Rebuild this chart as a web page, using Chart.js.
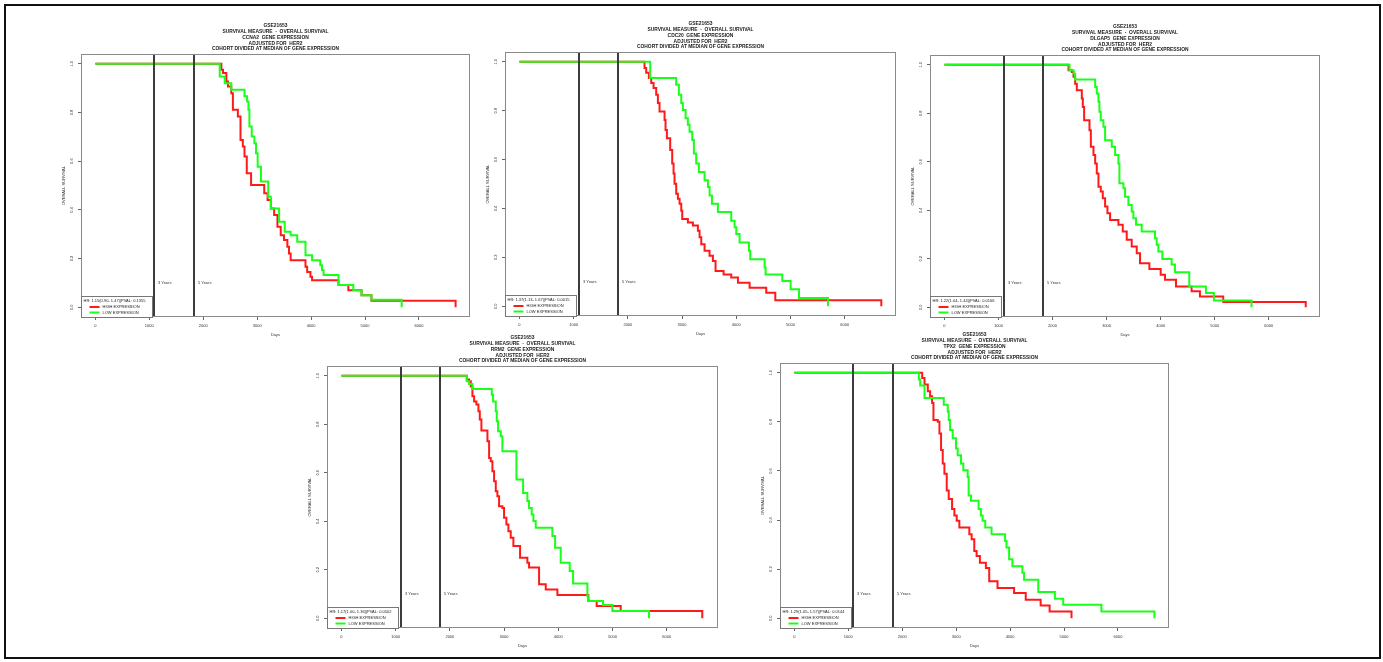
<!DOCTYPE html>
<html><head><meta charset="utf-8">
<script src="https://cdn.jsdelivr.net/npm/chart.js@4.4.1/dist/chart.umd.min.js"></script>
<style>
html,body{margin:0;padding:0;background:#fff;width:1383px;height:662px;overflow:hidden;position:relative;}
.frame{position:absolute;left:4px;top:4px;width:1373px;height:651px;border:2px solid #111;}
canvas{position:absolute;}
</style></head><body>
<div class="frame"></div>
<canvas id="c0"></canvas><canvas id="c1"></canvas><canvas id="c2"></canvas><canvas id="c3"></canvas><canvas id="c4"></canvas>
<script>
// ---------- data ----------
const xTicks = [0, 1000, 2000, 3000, 4000, 5000, 6000];
const yTicks = [0.0, 0.2, 0.4, 0.6, 0.8, 1.0];
const refDays = [1095, 1825];
const refLabels = ['3 Years', '5 Years'];
const refLabelY = 0.1;
const legendLabels = ['HIGH EXPRESSION', 'LOW EXPRESSION'];
const datasetName = 'GSE21653';
const genes = ['CCNA2', 'CDC20', 'DLGAP5', 'RRM2', 'TPX2'];
const hrTexts = [
  'HR: 1.15(0.90- 1.47)|PVAL: 0.1355',
  'HR: 1.37(1.13- 1.67)|PVAL: 0.0015',
  'HR: 1.22(1.04- 1.44)|PVAL: 0.0166',
  'HR: 1.17(1.00- 1.36)|PVAL: 0.0502',
  'HR: 1.29(1.05- 1.57)|PVAL: 0.0144'
];

// CCNA2
const ccna2HighDays = [0,2336,2367,2428,2459,2520,2550,2642,2691,2734,2765,2807,2887,3131,3193,3254,3315,3376,3437,3498,3560,3590,3621,3896,3927,3988,4018,4508,4691,4936,5119,6680];
const ccna2HighSurv = [1,0.975,0.962,0.927,0.907,0.879,0.811,0.783,0.687,0.660,0.619,0.550,0.502,0.468,0.440,0.406,0.379,0.331,0.296,0.276,0.248,0.221,0.193,0.166,0.145,0.125,0.111,0.091,0.070,0.049,0.027,0];
const ccna2LowDays = [0,2306,2398,2520,2765,2813,2838,2856,2899,2948,2979,3009,3070,3205,3254,3407,3511,3621,3743,3896,4018,4171,4202,4232,4508,4783,4936,5119,5680];
const ccna2LowSurv = [1,0.948,0.920,0.893,0.866,0.845,0.811,0.742,0.701,0.674,0.632,0.577,0.516,0.454,0.406,0.351,0.310,0.296,0.269,0.214,0.193,0.173,0.152,0.132,0.091,0.070,0.049,0.031,0];
// CDC20
const cdc20HighDays = [0,2307,2338,2388,2431,2474,2523,2554,2584,2677,2695,2720,2781,2818,2843,2861,2892,2923,2954,2985,3003,3107,3200,3292,3323,3354,3415,3507,3569,3618,3766,3907,4031,4246,4553,4720,6676];
const cdc20HighSurv = [1,0.975,0.955,0.934,0.913,0.893,0.865,0.831,0.797,0.762,0.721,0.687,0.639,0.584,0.543,0.501,0.460,0.440,0.419,0.391,0.357,0.343,0.330,0.309,0.282,0.254,0.227,0.206,0.185,0.144,0.130,0.117,0.096,0.076,0.055,0.024,0];
const cdc20LowDays = [0,2412,2892,2941,2985,3015,3065,3107,3138,3188,3218,3261,3310,3415,3477,3508,3551,3661,3907,3969,4000,4061,4234,4258,4523,4541,4849,5003,5157,5692];
const cdc20LowSurv = [1,0.934,0.906,0.865,0.831,0.803,0.769,0.742,0.714,0.680,0.625,0.584,0.549,0.515,0.488,0.453,0.419,0.385,0.350,0.323,0.295,0.261,0.227,0.192,0.158,0.130,0.103,0.069,0.034,0];
// DLGAP5
const dlgap5HighDays = [0,2295,2357,2388,2418,2449,2541,2560,2584,2683,2708,2757,2788,2818,2849,2892,2929,2972,3015,3064,3218,3298,3372,3464,3557,3618,3791,4000,4080,4283,4572,4726,5157,6683];
const dlgap5HighSurv = [1,0.977,0.970,0.950,0.922,0.895,0.861,0.826,0.771,0.730,0.662,0.628,0.593,0.552,0.497,0.477,0.450,0.415,0.388,0.360,0.340,0.312,0.278,0.251,0.223,0.182,0.158,0.134,0.114,0.086,0.066,0.045,0.022,0];
const dlgap5LowDays = [0,2314,2388,2418,2788,2818,2849,2867,2892,2941,2972,3095,3157,3218,3237,3311,3341,3403,3464,3495,3544,3649,3895,3926,3957,4031,4203,4264,4529,4837,4984,5680];
const dlgap5LowSurv = [1,0.977,0.963,0.939,0.908,0.881,0.847,0.806,0.771,0.744,0.689,0.662,0.628,0.593,0.511,0.491,0.456,0.422,0.395,0.367,0.340,0.312,0.285,0.258,0.230,0.199,0.176,0.144,0.086,0.059,0.028,0];
// RRM2
const rrm2HighDays = [0,2312,2355,2386,2416,2447,2490,2527,2552,2582,2693,2724,2754,2785,2816,2847,2877,2908,2969,3000,3043,3080,3123,3172,3295,3430,3461,3646,3769,3984,4555,4709,5152,6657];
const rrm2HighSurv = [1,0.984,0.977,0.956,0.915,0.894,0.881,0.853,0.819,0.774,0.730,0.661,0.647,0.606,0.565,0.524,0.503,0.462,0.455,0.414,0.387,0.359,0.332,0.298,0.250,0.229,0.209,0.140,0.119,0.096,0.071,0.051,0.030,0];
const rrm2LowDays = [0,2312,2355,2416,2773,2797,2847,2865,2890,2939,2969,3228,3351,3430,3461,3510,3541,3584,3891,3941,4045,4211,4273,4537,4555,4826,4998,5674];
const rrm2LowSurv = [1,0.977,0.966,0.945,0.922,0.894,0.853,0.812,0.771,0.750,0.689,0.572,0.517,0.483,0.455,0.428,0.401,0.373,0.339,0.291,0.229,0.195,0.143,0.092,0.071,0.055,0.030,0];
// TPX2
const tpx2HighDays = [0,2370,2413,2474,2517,2554,2579,2659,2690,2720,2751,2782,2825,2862,2924,2967,3010,3059,3244,3287,3336,3379,3440,3551,3613,3767,4074,4290,4567,4733,5139];
const tpx2HighSurv = [1,0.979,0.952,0.925,0.904,0.877,0.808,0.801,0.753,0.685,0.630,0.589,0.520,0.486,0.445,0.418,0.397,0.370,0.342,0.322,0.274,0.253,0.226,0.205,0.151,0.123,0.103,0.075,0.052,0.027,0];
const tpx2LowDays = [0,2308,2333,2413,2770,2844,2862,2887,2936,2997,3028,3090,3133,3213,3231,3274,3416,3459,3490,3539,3656,3908,3933,3982,4043,4228,4259,4523,4831,4985,5693,6677];
const tpx2LowSurv = [1,0.973,0.948,0.897,0.870,0.842,0.808,0.767,0.733,0.692,0.664,0.630,0.603,0.575,0.500,0.479,0.445,0.418,0.397,0.370,0.342,0.315,0.288,0.240,0.212,0.185,0.157,0.107,0.079,0.055,0.027,0];

const highDays = [ccna2HighDays, cdc20HighDays, dlgap5HighDays, rrm2HighDays, tpx2HighDays];
const highSurv = [ccna2HighSurv, cdc20HighSurv, dlgap5HighSurv, rrm2HighSurv, tpx2HighSurv];
const lowDays = [ccna2LowDays, cdc20LowDays, dlgap5LowDays, rrm2LowDays, tpx2LowDays];
const lowSurv = [ccna2LowSurv, cdc20LowSurv, dlgap5LowSurv, rrm2LowSurv, tpx2LowSurv];

// ---------- layout (plot-box positions on the page) ----------
const boxes = [
  {L: 81, T: 54, R: 470, B: 317},
  {L: 505, T: 52, R: 896, B: 316},
  {L: 930, T: 55, R: 1320, B: 317},
  {L: 327, T: 366, R: 718, B: 628},
  {L: 780, T: 363, R: 1169, B: 628}
];
const PAD_L = 26, PAD_T = 34, PAD_R = 4, PAD_B = 26;
const FONT = '"Liberation Sans", Arial, Helvetica, sans-serif';
const RED = '#ff1a1a', GREEN = '#1aff1a';

const kmPlugin = {
  id: 'kmExtras',
  afterDatasetsDraw(chart, args, opts) {
    const ctx = chart.ctx, a = chart.chartArea, x = chart.scales.x, y = chart.scales.y;
    ctx.save();
    // reference lines (3 and 5 years)
    ctx.strokeStyle = '#3c3c3c'; ctx.lineWidth = 2;
    ctx.font = '4px ' + FONT; ctx.textAlign = 'left'; ctx.textBaseline = 'middle'; ctx.fillStyle = '#333';
    refDays.forEach((d, i) => {
      const px = Math.round(x.getPixelForValue(d));
      ctx.beginPath(); ctx.moveTo(px, a.top); ctx.lineTo(px, a.bottom); ctx.stroke();
      ctx.fillText(refLabels[i], px + 4, y.getPixelForValue(refLabelY));
    });
    // plot box
    ctx.strokeStyle = '#8a8a8a'; ctx.lineWidth = 1;
    ctx.strokeRect(Math.round(a.left) + 0.5, Math.round(a.top) + 0.5, Math.round(a.width) - 1, Math.round(a.height) - 1);
    // legend box
    const lw = 71, lh = 21, lx = Math.round(a.left) + 0.5, ly = Math.round(a.bottom) - lh + 0.5;
    ctx.fillStyle = '#fff'; ctx.fillRect(lx, ly, lw, lh);
    ctx.strokeStyle = '#777'; ctx.strokeRect(lx, ly, lw, lh);
    ctx.fillStyle = '#222'; ctx.font = '4px ' + FONT; ctx.textAlign = 'left';
    ctx.fillText(opts.hr, lx + 2, ly + 4.5);
    const cols = [RED, GREEN];
    legendLabels.forEach((t, i) => {
      const yy = ly + 10.5 + i * 5.5;
      ctx.strokeStyle = cols[i]; ctx.lineWidth = 2;
      ctx.beginPath(); ctx.moveTo(lx + 8, yy); ctx.lineTo(lx + 18, yy); ctx.stroke();
      ctx.fillStyle = '#222'; ctx.fillText(t, lx + 21, yy);
    });
    ctx.restore();
  },
  afterDraw(chart, args, opts) {
    const ctx = chart.ctx, a = chart.chartArea, y = chart.scales.y;
    ctx.save();
    // title
    ctx.fillStyle = '#1a1a1a'; ctx.font = 'bold 4.9px ' + FONT; ctx.textAlign = 'center'; ctx.textBaseline = 'middle';
    const cx = (a.left + a.right) / 2;
    opts.title.forEach((t, i) => ctx.fillText(t, cx, a.top - 28.5 + i * 5.9));
    // y tick labels (rotated, as in R)
    ctx.font = '4px ' + FONT; ctx.fillStyle = '#333';
    yTicks.forEach(v => {
      const py = y.getPixelForValue(v);
      ctx.save(); ctx.translate(a.left - 9, py); ctx.rotate(-Math.PI / 2);
      ctx.fillText(v.toFixed(1), 0, 0); ctx.restore();
    });
    ctx.restore();
  }
};

function pts(days, surv) { return days.map((d, i) => ({x: d, y: surv[i]})); }

boxes.forEach((b, i) => {
  const cv = document.getElementById('c' + i);
  cv.width = (b.R - b.L) + PAD_L + PAD_R;
  cv.height = (b.B - b.T) + PAD_T + PAD_B;
  cv.style.left = (b.L - PAD_L) + 'px';
  cv.style.top = (b.T - PAD_T) + 'px';
  new Chart(cv, {
    type: 'line',
    data: {
      datasets: [
        {label: legendLabels[1], data: pts(lowDays[i], lowSurv[i]), borderColor: GREEN, borderWidth: 2, stepped: true, pointRadius: 0, fill: false, order: 0},
        {label: legendLabels[0], data: pts(highDays[i], highSurv[i]), borderColor: RED, borderWidth: 2, stepped: true, pointRadius: 0, fill: false, order: 1}
      ]
    },
    options: {
      responsive: false, animation: false, events: [],
      layout: {padding: {top: PAD_T, right: PAD_R, left: 0, bottom: 0}},
      plugins: {
        legend: {display: false}, tooltip: {enabled: false}, title: {display: false},
        kmExtras: {
          hr: hrTexts[i],
          title: [datasetName, 'SURVIVAL MEASURE  -  OVERALL SURVIVAL', genes[i] + '  GENE EXPRESSION', 'ADJUSTED FOR  HER2', 'COHORT DIVIDED AT MEDIAN OF GENE EXPRESSION']
        }
      },
      scales: {
        x: {
          type: 'linear', min: -267, max: 6947,
          afterBuildTicks: s => { s.ticks = xTicks.map(v => ({value: v})); },
          afterFit: s => { s.height = PAD_B; },
          grid: {drawOnChartArea: false, drawTicks: true, tickLength: 3, color: '#666'},
          border: {display: false},
          ticks: {font: {size: 4, family: FONT}, color: '#333', padding: 3, maxRotation: 0, autoSkip: false, callback: v => String(v)},
          title: {display: true, text: 'Days', font: {size: 4, family: FONT}, color: '#333', padding: {top: 0, bottom: 5.5}}
        },
        y: {
          type: 'linear', min: -0.04, max: 1.04,
          afterBuildTicks: s => { s.ticks = yTicks.map(v => ({value: v})); },
          afterFit: s => { s.width = PAD_L; },
          grid: {drawOnChartArea: false, drawTicks: true, tickLength: 3, color: '#666'},
          border: {display: false},
          ticks: {display: false},
          title: {display: true, text: 'OVERALL SURVIVAL', font: {size: 4, family: FONT}, color: '#333', padding: {top: 6.5, bottom: 0}}
        }
      }
    },
    plugins: [kmPlugin]
  });
});
</script>
</body></html>
